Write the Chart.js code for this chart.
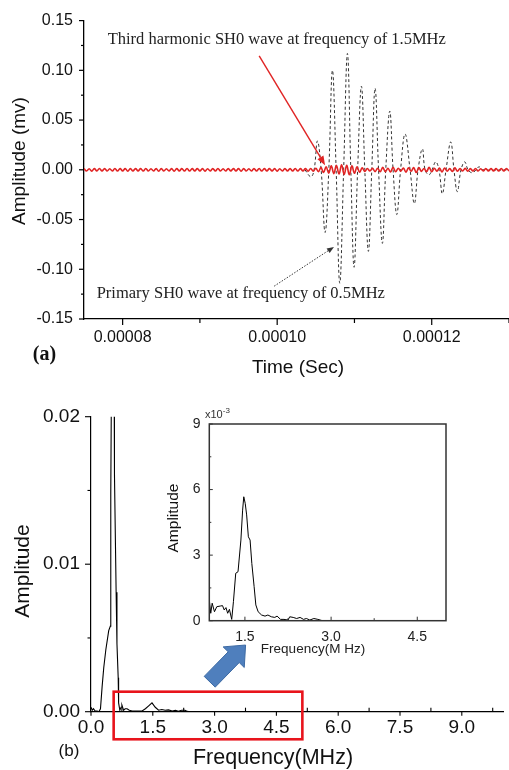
<!DOCTYPE html>
<html><head><meta charset="utf-8">
<script src="https://cdn.jsdelivr.net/npm/chart.js@4.4.1/dist/chart.umd.min.js"></script>
<style>
html,body{margin:0;padding:0;background:#fff;}
#fig{position:relative;width:509px;height:770px;overflow:hidden;font-family:'Liberation Sans',Arial,sans-serif;color:#111;}
canvas{position:absolute;}
.t{position:absolute;white-space:nowrap;line-height:1;}
.c{transform:translate(-50%,-50%);}
.r{transform:translate(-50%,-50%) rotate(-90deg);}
.serif{font-family:'Liberation Serif','Times New Roman',serif;}
</style></head><body>
<div id="fig">
<canvas id="cA" width="509" height="380" style="left:0;top:0;width:509px;height:380px"></canvas>
<canvas id="cB" width="509" height="390" style="left:0;top:380px;width:509px;height:390px"></canvas>
<canvas id="cI" width="300" height="260" style="left:150px;top:400px;width:300px;height:260px"></canvas>

<div class="t r" style="left:17.5px;top:161px;font-size:19px">Amplitude (mv)</div>
<div class="t c" style="left:298px;top:366px;font-size:19px">Time (Sec)</div>
<div class="t c serif" style="left:44.5px;top:353px;font-size:20px;font-weight:bold">(a)</div>
<div class="t serif" style="left:107.7px;top:31.2px;font-size:16.5px;color:#222">Third harmonic SH0 wave at frequency of 1.5MHz</div>
<div class="t serif" style="left:96.7px;top:285.2px;font-size:16.5px;color:#222">Primary SH0 wave at frequency of 0.5MHz</div>

<div class="t r" style="left:21px;top:570.7px;font-size:21px">Amplitude</div>
<div class="t c" style="left:273px;top:758px;font-size:21.5px">Frequency(MHz)</div>
<div class="t c" style="left:69px;top:750px;font-size:17px">(b)</div>
<div class="t r" style="left:173px;top:518px;font-size:15.5px">Amplitude</div>
<div class="t c" style="left:313px;top:649px;font-size:13.5px;color:#222">Frequency(M Hz)</div>
<div class="t" style="left:205px;top:407px;font-size:11px;color:#333">x10<sup style="font-size:8px">-3</sup></div>
</div>
<script>
// ---------- (a) time-domain signals ----------
const timeTicks = [0.00008, 0.00010, 0.00012];
const ampTicksA = [-0.15, -0.10, -0.05, 0.00, 0.05, 0.10, 0.15];

// primary SH0 wave (0.5 MHz), time in microseconds, amplitude in mV
const primaryTimeUs = [103.6,104.36,104.78,105.21,105.69,106.2,106.68,107.15,107.63,108.1,108.6,109.09,109.53,109.95,110.41,110.9,111.34,111.8,112.24,112.67,113.12,113.61,114.05,114.57,115.0,115.48,115.97,116.55,117.2,117.75,118.23,118.79,119.14,119.65,120.04,120.52,120.94,121.37,121.85,122.46,122.88,123.31,123.79,124.27,124.7,125.25,125.73,126.12,126.63,130];
const primaryAmp = [0,-0.007,0,0.029,0,-0.063,0,0.100,0,-0.114,0,0.117,0,-0.098,0,0.084,0,-0.082,0,0.082,0,-0.074,0,0.059,0,-0.045,0,0.036,0,-0.034,0,0.021,0,-0.005,0,0.008,0,-0.024,0,0.028,0,-0.022,0,0.008,0,-0.003,0,0.003,0,0];

// third harmonic SH0 wave (1.5 MHz), sampled every 1/3 us from 75 us
const harmonicStartUs = 75;
const harmonicStepUs = 1/3;
const harmonicAmp = [
0.0012,-0.0012,0.0011,-0.0013,0.0012,-0.0011,0.0013,-0.0012,0.0012,-0.0012,
0.0011,-0.0012,0.0013,-0.0012,0.0012,-0.0011,0.0012,-0.0013,0.0012,-0.0012,
0.0012,-0.0011,0.0012,-0.0012,0.0013,-0.0012,0.0011,-0.0012,0.0012,-0.0013,
0.0012,-0.0012,0.0011,-0.0012,0.0012,-0.0013,0.0012,-0.0011,0.0012,-0.0012,
0.0013,-0.0012,0.0012,-0.0011,0.0012,-0.0012,0.0012,-0.0013,0.0011,-0.0012,
0.0012,-0.0012,0.0013,-0.0012,0.0011,-0.0012,0.0012,-0.0012,0.0012,-0.0011,
0.0012,-0.0013,0.0012,-0.0012,0.0011,-0.0012,0.0012,-0.0012,0.0013,-0.0012,
0.0012,-0.0011,0.0012,-0.0012,0.0012,-0.0013,0.0011,-0.0012,0.0012,-0.0012,
0.0012,-0.0012,0.0013,-0.0012,0.0012,-0.0011,0.0012,-0.0014,0.0013,-0.0015,
0.0016,-0.0018,0.0022,-0.0026,0.0030,-0.0034,0.0040,-0.0038,0.0044,-0.0042,
0.0050,-0.0048,0.0045,-0.0050,0.0040,-0.0035,0.0030,-0.0025,0.0020,-0.0016,
0.0013,-0.0012,0.0015,-0.0018,0.0014,-0.0020,0.0024,-0.0018,0.0015,-0.0022,
0.0026,-0.0020,0.0016,-0.0013,0.0018,-0.0024,0.0020,-0.0015,0.0022,-0.0027,
0.0022,-0.0016,0.0013,-0.0018,0.0024,-0.0020,0.0015,-0.0013,0.0017,-0.0021,
0.0018,-0.0014,0.0012,-0.0016,0.0019,-0.0015,0.0013,-0.0012,0.0014,-0.0013,
0.0012,-0.0012,0.0013,-0.0012,0.0011,-0.0012,0.0012,-0.0012,0.0012,-0.0011,
0.0012,-0.0012,0.0013,-0.0012,0.0012,-0.0012];

// ---------- (b) spectrum ----------
const freqTicks = [0, 1.5, 3.0, 4.5, 6.0, 7.5, 9.0];
const ampTicksB = [0, 0.01, 0.02];
const spectrumFreqMHz = [0,0.03,0.06,0.1,0.15,0.19,0.23,0.27,0.31,0.36,0.43,0.47,0.48,0.5,0.53,0.56,0.57,0.61,0.63,0.66,0.67,0.7,0.73,0.75,0.79,0.83,0.875,0.93,1.0,1.1,1.24,1.32,1.4,1.48,1.56,1.64,1.72,1.8,1.88,1.97,2.05,2.12,2.2,2.28,2.34,2.4,10];
const spectrumAmp = [0.0003,0.0001,0.0002,0.00005,0.00005,0,0.0002,0.0017,0.003,0.0042,0.0055,0.0058,0.0148,0.024,0.03,0.024,0.016,0.0081,0.0046,0.0023,0.0006,0.0001,0.0003,0.00045,0.0001,0.0002,0.0002,0.0001,0.00005,0.00005,0.00005,0.0002,0.0004,0.0006,0.0003,0.0001,0.00015,0.0001,0.00012,0.00005,0.0001,0.00003,0.0001,0.0001,0.00002,0,0];

// inset (amplitude x10^-3)
const insetFreqTicks = [1.5, 3.0, 4.5];
const insetAmpTicks = [0, 3, 6, 9];
const insetFreqMHz = [0.88,0.905,0.93,0.97,1.01,1.07,1.11,1.14,1.17,1.2,1.23,1.27,1.3,1.34,1.38,1.43,1.46,1.48,1.505,1.53,1.56,1.59,1.62,1.66,1.69,1.73,1.79,1.85,1.9,1.96,2.02,2.06,2.12,2.18,2.25,2.28,2.34,2.4,2.46,2.52,2.57,2.63,2.7,2.77,2.81,2.85,5.0];
const insetAmp = [0.95,0.34,0.8,0.41,0.64,0.67,0.69,0.49,0.6,0.34,0.52,0.06,0.87,2.17,2.24,3.69,5.06,5.67,5.37,4.84,3.84,3.69,2.62,1.56,0.72,0.41,0.26,0.21,0.26,0.18,0.15,0.21,0.06,0.06,0.03,0.18,0.15,0.1,0.15,0.06,0.1,0.03,0.1,0.06,0.03,0,0];

const FONT = "'Liberation Sans', Arial, sans-serif";

// ---------- helpers ----------
const tickMarks = {
  id: 'tickMarks',
  afterDatasetsDraw(chart, args, opts) {
    const ctx = chart.ctx;
    ctx.save();
    ctx.strokeStyle = opts.color || '#000';
    ctx.lineWidth = opts.width || 1;
    Object.entries(opts.scales || {}).forEach(([id, c]) => {
      const s = chart.scales[id];
      const vals = s.ticks.map(t => t.value);
      const step = vals[1] - vals[0];
      const minors = [];
      for (let k = -1; k < vals.length; k++) {
        const v = vals[0] + step * (k + 0.5);
        if (v >= s.min - 1e-12 && v <= s.max + 1e-12) minors.push(v);
      }
      const mark = (v, len, dir) => {
        const p = s.getPixelForValue(v);
        ctx.beginPath();
        if (s.isHorizontal()) {
          const y = s.top, sg = dir === 'out' ? 1 : -1;
          ctx.moveTo(p, y); ctx.lineTo(p, y + sg * len);
        } else {
          const x = s.right, sg = dir === 'out' ? -1 : 1;
          ctx.moveTo(x, p); ctx.lineTo(x + sg * len, p);
        }
        ctx.stroke();
      };
      vals.forEach(v => mark(v, c.major, c.majorDir || 'out'));
      minors.forEach(v => mark(v, c.minor, c.minorDir || c.majorDir || 'out'));
    });
    ctx.restore();
  }
};

function arrow(ctx, x1, y1, x2, y2, o) {
  const dx = x2 - x1, dy = y2 - y1, L = Math.hypot(dx, dy), ux = dx / L, uy = dy / L;
  const bx = x2 - ux * o.head, by = y2 - uy * o.head;
  ctx.save();
  ctx.strokeStyle = o.color; ctx.fillStyle = o.color; ctx.lineWidth = o.width;
  if (o.dash) ctx.setLineDash(o.dash);
  ctx.beginPath(); ctx.moveTo(x1, y1); ctx.lineTo(bx, by); ctx.stroke();
  ctx.setLineDash([]);
  ctx.beginPath();
  ctx.moveTo(x2, y2);
  ctx.lineTo(bx - uy * o.half, by + ux * o.half);
  ctx.lineTo(bx + uy * o.half, by - ux * o.half);
  ctx.closePath(); ctx.fill();
  ctx.restore();
}

function blockArrow(ctx, tx, ty, hx, hy, o) {
  const dx = hx - tx, dy = hy - ty, L = Math.hypot(dx, dy), ux = dx / L, uy = dy / L, nx = -uy, ny = ux;
  const bx = hx - ux * o.head, by = hy - uy * o.head;
  ctx.save();
  ctx.beginPath();
  ctx.moveTo(tx + nx * o.body, ty + ny * o.body);
  ctx.lineTo(bx + nx * o.body, by + ny * o.body);
  ctx.lineTo(bx + nx * o.half, by + ny * o.half);
  ctx.lineTo(hx, hy);
  ctx.lineTo(bx - nx * o.half, by - ny * o.half);
  ctx.lineTo(bx - nx * o.body, by - ny * o.body);
  ctx.lineTo(tx - nx * o.body, ty - ny * o.body);
  ctx.closePath();
  ctx.fillStyle = o.fill; ctx.fill();
  ctx.strokeStyle = o.stroke; ctx.lineWidth = 1; ctx.stroke();
  ctx.restore();
}

const annotA = {
  id: 'annotA',
  afterDraw(chart) {
    const { x, y } = chart.scales, ctx = chart.ctx;
    arrow(ctx, x.getPixelForValue(97.67e-6), y.getPixelForValue(0.1146),
               x.getPixelForValue(106.2e-6), y.getPixelForValue(0.0047),
               { color: '#e02424', width: 1.4, head: 9, half: 3.5 });
    arrow(ctx, x.getPixelForValue(99.61e-6), y.getPixelForValue(-0.117),
               x.getPixelForValue(107.35e-6), y.getPixelForValue(-0.0775),
               { color: '#333', width: 1, head: 7, half: 2.8, dash: [1.5, 1.5] });
  }
};

const annotB = {
  id: 'annotB',
  afterDraw(chart) {
    const { x, y } = chart.scales, ctx = chart.ctx;
    // zoom window
    const x1 = x.getPixelForValue(0.55), x2 = x.getPixelForValue(5.13);
    const y1 = y.getPixelForValue(0.001356), y2 = y.getPixelForValue(-0.00187);
    ctx.save();
    ctx.strokeStyle = '#e8141c'; ctx.lineWidth = 2.6;
    ctx.strokeRect(x1, y1, x2 - x1, y2 - y1);
    ctx.restore();
    blockArrow(ctx, x.getPixelForValue(2.881), y.getPixelForValue(0.00203),
                    x.getPixelForValue(3.752), y.getPixelForValue(0.00452),
                    { head: 17, half: 14.75, body: 7.7, fill: '#4f7fbd', stroke: '#3d6aa3' });
  }
};

const insetFrame = {
  id: 'insetFrame',
  afterDraw(chart) {
    const a = chart.chartArea, ctx = chart.ctx;
    ctx.save(); ctx.strokeStyle = '#333'; ctx.lineWidth = 1.5;
    ctx.strokeRect(a.left, a.top, a.right - a.left, a.bottom - a.top);
    ctx.restore();
  }
};

const setTicks = arr => s => { s.ticks = arr.map(v => ({ value: v })); };
const noGrid = { display: false, drawTicks: false };

// ---------- chart (a) ----------
new Chart(document.getElementById('cA'), {
  type: 'line',
  data: { datasets: [
    { label: 'Third harmonic SH0 wave (1.5 MHz)', order: 0,
      data: harmonicAmp.map((v, i) => ({ x: (harmonicStartUs + i * harmonicStepUs) * 1e-6, y: v })),
      borderColor: '#e02424', borderWidth: 1.6, pointRadius: 0, tension: 0.4, fill: false },
    { label: 'Primary SH0 wave (0.5 MHz)', order: 1,
      data: primaryTimeUs.map((t, i) => ({ x: t * 1e-6, y: primaryAmp[i] })),
      borderColor: '#333', borderWidth: 1, borderDash: [3, 2.5], pointRadius: 0, tension: 0.4, fill: false }
  ] },
  options: {
    responsive: false, animation: false, devicePixelRatio: 1,
    layout: { padding: { top: 16, right: 0, left: 0, bottom: 0 } },
    plugins: { legend: { display: false }, tooltip: { enabled: false },
      tickMarks: { color: '#000', width: 1.2, scales: {
        x: { major: 6, minor: 4, majorDir: 'out' }, y: { major: 5, minor: 3, majorDir: 'out' } } } },
    scales: {
      x: { type: 'linear', min: 0.000075, max: 0.00013, afterBuildTicks: setTicks(timeTicks),
        afterFit: s => { s.height = 61; }, grid: noGrid, border: { display: true, color: '#000', width: 1.3 },
        ticks: { padding: 8.7, autoSkip: false, maxRotation: 0, color: '#111', font: { family: FONT, size: 16 },
          callback: v => Number(v).toFixed(5) } },
      y: { type: 'linear', min: -0.15, max: 0.15, afterBuildTicks: setTicks(ampTicksA),
        afterFit: s => { s.width = 84; }, grid: noGrid, border: { display: true, color: '#000', width: 1.3 },
        ticks: { padding: 11, color: '#111', font: { family: FONT, size: 16 },
          callback: v => Number(v).toFixed(2) } }
    }
  },
  plugins: [tickMarks, annotA]
});

// ---------- chart (b) main ----------
new Chart(document.getElementById('cB'), {
  type: 'line',
  data: { datasets: [
    { label: 'Spectrum', data: spectrumFreqMHz.map((f, i) => ({ x: f, y: spectrumAmp[i] })),
      borderColor: '#000', borderWidth: 1.1, pointRadius: 0, tension: 0, fill: false }
  ] },
  options: {
    responsive: false, animation: false, devicePixelRatio: 1,
    layout: { padding: { top: 36.7, right: 6, left: 0, bottom: 0 } },
    plugins: { legend: { display: false }, tooltip: { enabled: false },
      tickMarks: { color: '#000', width: 1.1, scales: {
        x: { major: 4, minor: 4, majorDir: 'out', minorDir: 'in' }, y: { major: 6, minor: 3.5, majorDir: 'out' } } } },
    scales: {
      x: { type: 'linear', min: 0, max: 10, afterBuildTicks: setTicks(freqTicks),
        afterFit: s => { s.height = 58.3; }, grid: noGrid, border: { display: true, color: '#000', width: 1.2 },
        ticks: { padding: 4.9, autoSkip: false, maxRotation: 0, color: '#111', font: { family: FONT, size: 19 },
          callback: v => Number(v).toFixed(1) } },
      y: { type: 'linear', min: 0, max: 0.02, afterBuildTicks: setTicks(ampTicksB),
        afterFit: s => { s.width = 91; }, grid: noGrid, border: { display: true, color: '#000', width: 1.2 },
        ticks: { padding: 11, color: '#111', font: { family: FONT, size: 19 },
          callback: v => Number(v).toFixed(2) } }
    }
  },
  plugins: [tickMarks, annotB]
});

// ---------- chart (b) inset ----------
new Chart(document.getElementById('cI'), {
  type: 'line',
  data: { datasets: [
    { label: 'Spectrum (zoom)', data: insetFreqMHz.map((f, i) => ({ x: f, y: insetAmp[i] })),
      borderColor: '#000', borderWidth: 1, pointRadius: 0, tension: 0, fill: false }
  ] },
  options: {
    responsive: false, animation: false, devicePixelRatio: 1,
    layout: { padding: { top: 24, right: 4, left: 0, bottom: 0 } },
    plugins: { legend: { display: false }, tooltip: { enabled: false },
      tickMarks: { color: '#333', width: 1, scales: {
        x: { major: 4, minor: 2.5, majorDir: 'in' }, y: { major: 3.5, minor: 2, majorDir: 'in' } } } },
    scales: {
      x: { type: 'linear', min: 0.88, max: 5.0, afterBuildTicks: setTicks(insetFreqTicks),
        afterFit: s => { s.height = 39.3; }, grid: noGrid, border: { display: false },
        ticks: { padding: 7.6, autoSkip: false, maxRotation: 0, color: '#222', font: { family: FONT, size: 14 },
          callback: v => Number(v).toFixed(1) } },
      y: { type: 'linear', min: 0, max: 9, afterBuildTicks: setTicks(insetAmpTicks),
        afterFit: s => { s.width = 59.3; }, grid: noGrid, border: { display: false },
        ticks: { padding: 8.8, color: '#222', font: { family: FONT, size: 14 },
          callback: v => String(v) } }
    }
  },
  plugins: [tickMarks, insetFrame]
});
</script>
</body></html>
